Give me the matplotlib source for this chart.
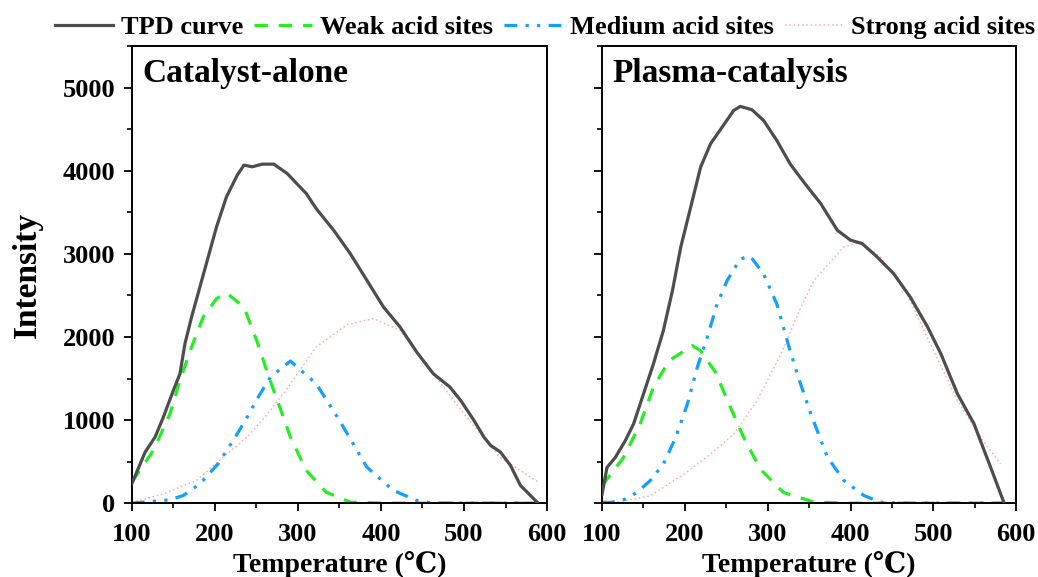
import matplotlib
matplotlib.use("Agg")
import matplotlib.pyplot as plt
from matplotlib.ticker import MultipleLocator

plt.rcParams['font.family'] = ['Liberation Serif', 'DejaVu Serif']
plt.rcParams['font.weight'] = 'bold'

# ---------------- data ----------------
# Catalyst-alone
ca_tpd_T = [100, 116, 128, 138, 150, 158, 164, 172, 182, 192, 202, 214, 227, 235, 245, 257, 271, 287,
            310, 322, 343, 363, 383, 403, 423, 443, 463, 483, 496, 512, 524, 532, 544, 556, 568, 588]
ca_tpd_I = [233, 614, 795, 1036, 1357, 1558, 1920, 2241, 2602, 2964, 3325, 3687, 3948, 4068, 4048,
            4080, 4080, 3968, 3727, 3546, 3285, 3004, 2683, 2361, 2120, 1819, 1558, 1398, 1237, 996,
            795, 695, 614, 454, 213, 12]
ca_weak_T = [100, 126, 146, 158, 172, 186, 202, 214, 235, 251, 265, 281, 291, 310, 334, 363, 403, 590]
ca_weak_I = [253, 635, 1076, 1478, 1880, 2241, 2462, 2530, 2361, 1940, 1518, 1076, 795, 394, 133, 12, 0, 0]
ca_med_T = [100, 146, 162, 182, 204, 227, 239, 251, 267, 291, 322, 350, 383, 415, 443, 463, 590]
ca_med_I = [0, 40, 92, 233, 474, 835, 1036, 1257, 1518, 1710, 1438, 996, 434, 153, 32, 0, 0]
ca_str_T = [100, 110, 138, 178, 210, 239, 267, 287, 322, 360, 391, 423, 463, 503, 543, 590]
ca_str_I = [20, 32, 112, 273, 554, 795, 1116, 1378, 1880, 2150, 2221, 2080, 1558, 1036, 554, 250]

# Plasma-catalysis
pc_tpd_T = [100, 106, 116, 128, 138, 150, 162, 174, 185, 195, 207, 219, 231, 245, 259, 267, 281, 295,
            311, 327, 339, 348, 364, 384, 400, 414, 432, 452, 472, 493, 509, 529, 549, 569, 585]
pc_tpd_I = [108, 430, 550, 751, 952, 1313, 1675, 2076, 2558, 3080, 3562, 4044, 4325, 4526, 4727,
            4775, 4735, 4606, 4365, 4084, 3924, 3807, 3606, 3285, 3165, 3124, 2964, 2763, 2482, 2120,
            1799, 1317, 956, 434, 12]
pc_weak_T = [100, 126, 146, 162, 181, 209, 219, 237, 255, 271, 291, 319, 356, 396, 585]
pc_weak_I = [209, 550, 952, 1394, 1715, 1896, 1835, 1574, 1153, 791, 410, 129, 12, 0, 0]
pc_med_T = [100, 110, 128, 142, 158, 174, 189, 203, 215, 227, 239, 251, 267, 279, 295, 311, 327, 337,
            352, 372, 392, 416, 436, 456, 585]
pc_med_I = [12, 8, 48, 129, 269, 470, 791, 1193, 1635, 1996, 2398, 2679, 2940, 2972, 2759, 2398, 1835,
            1514, 1076, 554, 273, 92, 12, 0, 0]
pc_str_T = [114, 158, 199, 231, 259, 287, 316, 340, 356, 392, 412, 436, 468, 496, 529, 557, 581]
pc_str_I = [0, 88, 349, 590, 831, 1233, 1795, 2357, 2683, 3084, 3145, 2964, 2522, 1920, 1237, 795, 474]

panel_titles = ["Catalyst-alone", "Plasma-catalysis"]
series_labels = ["TPD curve", "Weak acid sites", "Medium acid sites", "Strong acid sites"]
x_ticks = [100, 200, 300, 400, 500, 600]
y_ticks = [0, 1000, 2000, 3000, 4000, 5000]

# ---------------- styles ----------------
c_tpd = '#4d4d4d'
c_weak = '#22ee22'
c_med = '#12a0ff'
c_str = '#ffa8ac'

fig = plt.figure(figsize=(10.38, 5.77), dpi=100)
ax1 = fig.add_axes([0.127, 0.128, 0.400, 0.792])
ax2 = fig.add_axes([0.580, 0.128, 0.399, 0.792])

panels = [
    (ax1, ca_tpd_T, ca_tpd_I, ca_weak_T, ca_weak_I, ca_med_T, ca_med_I, ca_str_T, ca_str_I),
    (ax2, pc_tpd_T, pc_tpd_I, pc_weak_T, pc_weak_I, pc_med_T, pc_med_I, pc_str_T, pc_str_I),
]

handles = None
for i, (ax, tT, tI, wT, wI, mT, mI, sT, sI) in enumerate(panels):
    hs = ax.plot(sT, sI, color=c_str, lw=1.1, ls=(0, (1, 1.8)), label=series_labels[3])
    hm = ax.plot(mT, mI, color=c_med, lw=2.3, ls=(0, (4, 2.6, 1, 2.6, 1, 2.6)), label=series_labels[2])
    hw = ax.plot(wT, wI, color=c_weak, lw=2.3, ls=(0, (4.2, 3.4)), label=series_labels[1])
    ht = ax.plot(tT, tI, color=c_tpd, lw=2.3, ls='-', label=series_labels[0], zorder=5)
    handles = [ht[0], hw[0], hm[0], hs[0]]

    ax.set_xlim(100, 600)
    ax.set_ylim(0, 5500)
    ax.set_xticks(x_ticks)
    ax.set_yticks(y_ticks)
    ax.xaxis.set_minor_locator(MultipleLocator(50))
    ax.yaxis.set_minor_locator(MultipleLocator(500))
    ax.tick_params(which='major', direction='out', length=6, width=1.3, labelsize=19)
    ax.tick_params(axis='x', which='major', pad=8)
    ax.tick_params(axis='y', which='major', pad=6)
    ax.tick_params(which='minor', direction='out', length=3.5, width=1.2)
    ax.tick_params(top=False, right=False)
    for sp in ax.spines.values():
        sp.set_linewidth(1.4)
    for lab in ax.get_xticklabels() + ax.get_yticklabels():
        lab.set_fontweight('bold')
    ax.set_xlabel("Temperature (\u2103)", fontsize=20, fontweight='bold', labelpad=4)
    ax.text(0.025, 0.975, panel_titles[i], transform=ax.transAxes, ha='left', va='top',
            fontsize=24, fontweight='bold')

ax2.tick_params(axis='y', labelleft=False)
ax1.set_ylabel("Intensity", fontsize=24, fontweight='bold', labelpad=14)

fig.legend(handles, series_labels, loc='upper center', bbox_to_anchor=(0.525, 1.014), ncol=4,
           frameon=False, prop={'weight': 'bold', 'size': 19},
           handlelength=2.2, handletextpad=0.3, columnspacing=0.42)

fig.savefig("out.png", dpi=100)
